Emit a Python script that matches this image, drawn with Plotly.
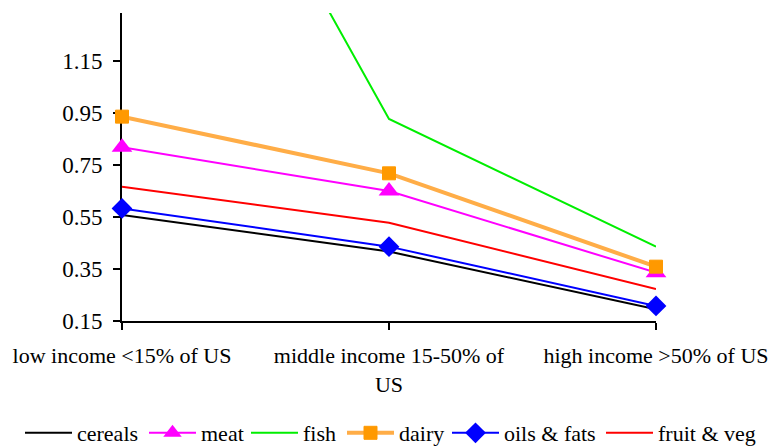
import plotly.graph_objects as go

# Income groups (x categories)
categories = ["low income <15% of US", "middle income 15-50% of<br>US", "high income >50% of US"]

# Values per food group
cereals = [0.558, 0.417, 0.195]
meat = [0.818, 0.650, 0.336]
fish = [2.77, 0.927, 0.436]
dairy = [0.936, 0.718, 0.359]
oils_fats = [0.583, 0.436, 0.208]
fruit_veg = [0.666, 0.528, 0.273]

y_ticks = [0.15, 0.35, 0.55, 0.75, 0.95, 1.15]

FONT = "Liberation Serif"
W, H = 774, 446

# One single-entry legend per series so the entries can sit in one spaced row
legend_left_px = [25, 149, 251, 347, 452, 606]
legend_names = ["legend", "legend2", "legend3", "legend4", "legend5", "legend6"]

series = [
    dict(name="cereals", y=cereals, mode="lines", clip=True,
         line=dict(color="#000000", width=2), marker=None),
    dict(name="meat", y=meat, mode="lines+markers", clip=False,
         line=dict(color="#FF00FF", width=2),
         marker=dict(symbol="triangle-up", size=18, color="#FF00FF")),
    dict(name="fish", y=fish, mode="lines", clip=True,
         line=dict(color="#00EE00", width=2), marker=None),
    dict(name="dairy", y=dairy, mode="lines+markers", clip=False,
         line=dict(color="#FFAD47", width=4),
         marker=dict(symbol="square", size=13, color="#FF9900",
                     line=dict(color="#FF9900", width=1))),
    dict(name="oils & fats", y=oils_fats, mode="lines+markers", clip=False,
         line=dict(color="#0000FF", width=2),
         marker=dict(symbol="diamond", size=16, color="#0000FF")),
    dict(name="fruit & veg", y=fruit_veg, mode="lines", clip=True,
         line=dict(color="#FF0000", width=2), marker=None),
]

fig = go.Figure()
for s, lg in zip(series, legend_names):
    kw = dict(x=categories, y=s["y"], name=s["name"], mode=s["mode"],
              line=s["line"], cliponaxis=s["clip"], legend=lg)
    if s["marker"] is not None:
        kw["marker"] = s["marker"]
    fig.add_trace(go.Scatter(**kw))

legend_common = dict(orientation="h", xref="container", yref="container",
                     xanchor="left", yanchor="middle", y=(H - 433) / H,
                     itemwidth=47, font=dict(size=22, family=FONT, color="black"),
                     bgcolor="rgba(0,0,0,0)", borderwidth=0)
legend_layout = {}
for lg, px in zip(legend_names, legend_left_px):
    legend_layout[lg] = dict(legend_common, x=(px - 5) / W)

fig.update_layout(
    width=W, height=H,
    margin=dict(l=122, r=118, t=13, b=125, autoexpand=False),
    paper_bgcolor="white", plot_bgcolor="white",
    font=dict(family=FONT, size=22, color="black"),
    showlegend=True,
    **legend_layout,
)

fig.update_xaxes(
    type="category", range=[0, 2], automargin=False, tickangle=0,
    showline=True, linecolor="black", linewidth=2, layer="below traces",
    ticks="outside", ticklen=7, tickwidth=2, tickcolor="black",
    ticklabelstandoff=7,
    showgrid=False, zeroline=False,
    tickfont=dict(family=FONT, size=22, color="black"),
)
fig.update_yaxes(
    range=[0.15, 1.3346], automargin=False, layer="below traces",
    tickvals=y_ticks, ticktext=[f"{v:.2f}" for v in y_ticks],
    showline=True, linecolor="black", linewidth=2,
    ticks="outside", ticklen=7, tickwidth=2, tickcolor="black",
    ticklabelstandoff=6,
    showgrid=False, zeroline=False,
    tickfont=dict(family=FONT, size=23, color="black"),
)

fig.write_html("out.html")
